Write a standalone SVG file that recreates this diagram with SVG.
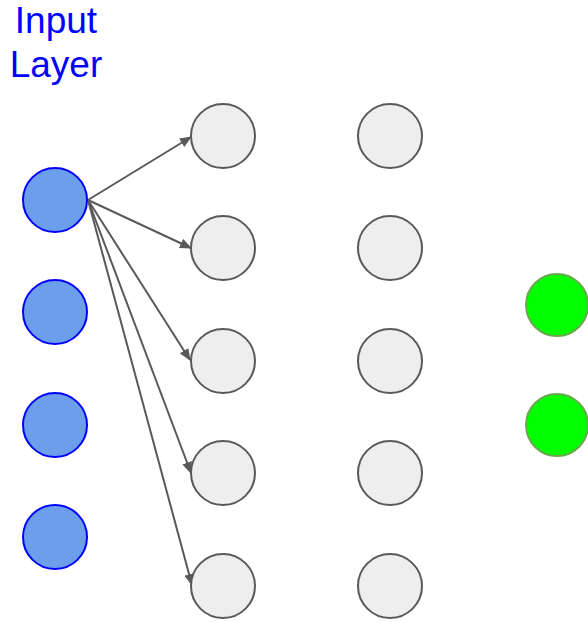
<svg xmlns="http://www.w3.org/2000/svg" width="588" height="622" viewBox="0 0 588 622">
  <defs>
    <marker id="arrow" viewBox="0 0 12 10" refX="11" refY="5" markerWidth="12" markerHeight="10" markerUnits="userSpaceOnUse" orient="auto">
      <path d="M0,0 L12,5 L0,10 Z" fill="#595959"/>
    </marker>
    <style>
      .input { fill: #6d9eeb; stroke: #0000ff; stroke-width: 2; }
      .hidden { fill: #eeeeee; stroke: #595959; stroke-width: 2; }
      .output { fill: #00ff00; stroke: #6aa84f; stroke-width: 2; }
      .edge { stroke: #595959; stroke-width: 2; fill: none; marker-end: url(#arrow); }
      .label { font-family: "Liberation Sans", Arial, sans-serif; font-size: 37px; fill: #0000ff; text-anchor: middle; }
    </style>
  </defs>
  <rect width="588" height="622" fill="#ffffff"/>

  <g id="label-input">
    <text class="label" x="56" y="33">Input</text>
    <text class="label" x="56" y="77">Layer</text>
  </g>

  <g id="connectors">
    <line class="edge" x1="88" y1="200" x2="191" y2="137"/>
    <line class="edge" x1="88" y1="200" x2="191" y2="248"/>
    <line class="edge" x1="88" y1="200" x2="190" y2="360"/>
    <line class="edge" x1="88" y1="200" x2="191" y2="473"/>
    <line class="edge" x1="88" y1="200" x2="192" y2="585"/>
  </g>

  <g id="in1"><circle class="input" cx="55" cy="200" r="32"/></g>
  <g id="in2"><circle class="input" cx="55" cy="312" r="32"/></g>
  <g id="in3"><circle class="input" cx="55" cy="425" r="32"/></g>
  <g id="in4"><circle class="input" cx="55" cy="537" r="32"/></g>

  <g id="h1a"><circle class="hidden" cx="223" cy="136" r="32"/></g>
  <g id="h1b"><circle class="hidden" cx="223" cy="248" r="32"/></g>
  <g id="h1c"><circle class="hidden" cx="223" cy="361" r="32"/></g>
  <g id="h1d"><circle class="hidden" cx="223" cy="473" r="32"/></g>
  <g id="h1e"><circle class="hidden" cx="223" cy="586" r="32"/></g>

  <g id="h2a"><circle class="hidden" cx="390" cy="136" r="32"/></g>
  <g id="h2b"><circle class="hidden" cx="390" cy="248" r="32"/></g>
  <g id="h2c"><circle class="hidden" cx="390" cy="361" r="32"/></g>
  <g id="h2d"><circle class="hidden" cx="390" cy="473" r="32"/></g>
  <g id="h2e"><circle class="hidden" cx="390" cy="586" r="32"/></g>

  <g id="out1"><circle class="output" cx="557" cy="305" r="31"/></g>
  <g id="out2"><circle class="output" cx="557" cy="425" r="31"/></g>
</svg>
